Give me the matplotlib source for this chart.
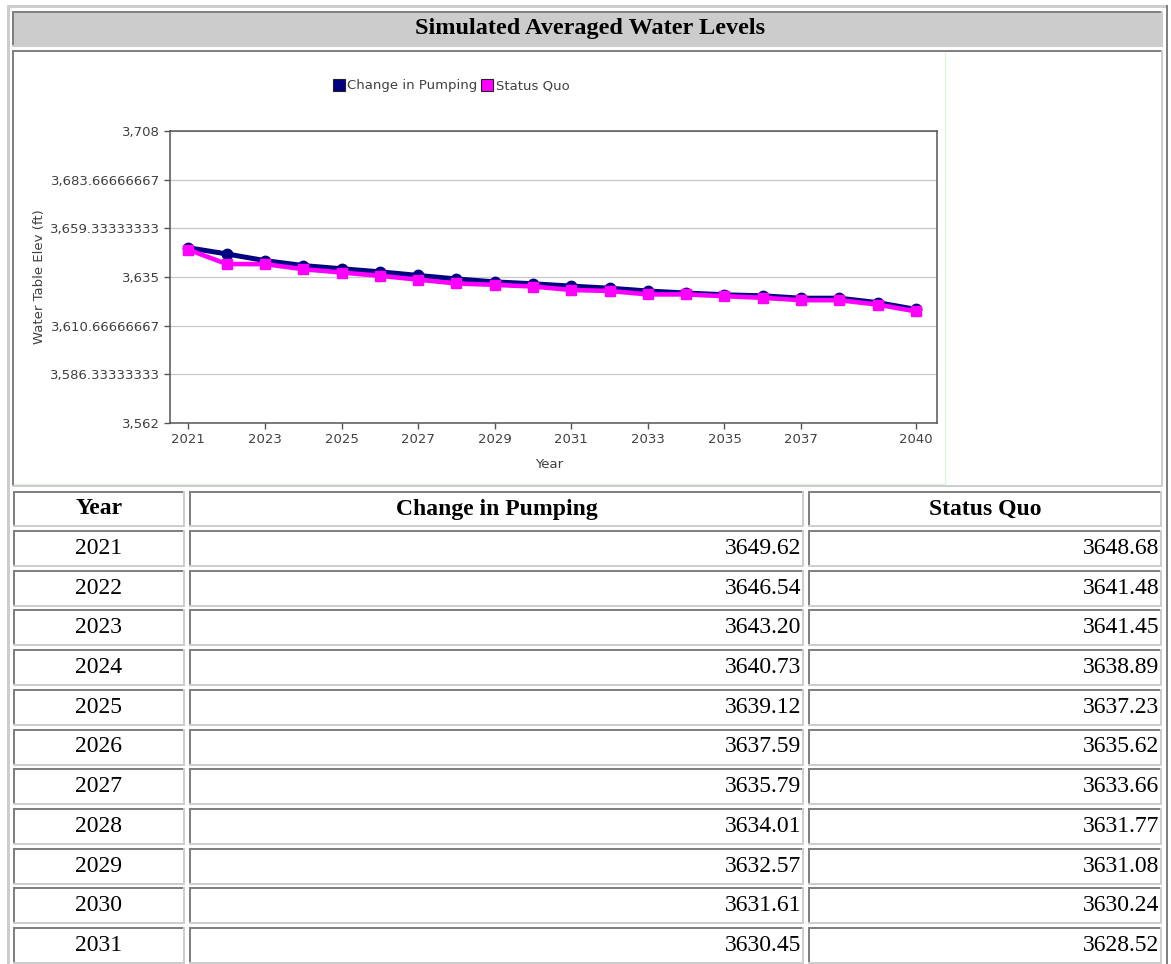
import numpy as np
import matplotlib
matplotlib.use('Agg')
import matplotlib.pyplot as plt
from matplotlib.patches import Rectangle
from matplotlib.lines import Line2D

# chart data (2021-2031 from the table, later years)
years = list(range(2021, 2041))
pumping = [3649.62, 3646.54, 3643.20, 3640.73, 3639.12, 3637.59, 3635.79, 3634.01, 3632.57, 3631.61,
           3630.45, 3629.4, 3628.0, 3627.0, 3626.1, 3625.6, 3624.4, 3624.4, 3622.2, 3618.8]
status_quo = [3648.68, 3641.48, 3641.45, 3638.89, 3637.23, 3635.62, 3633.66, 3631.77, 3631.08, 3630.24,
              3628.52, 3628.0, 3626.3, 3626.3, 3625.4, 3624.6, 3623.4, 3623.4, 3621.2, 3617.8]
series_names = ['Change in Pumping', 'Status Quo']
x_ticks = [2021, 2023, 2025, 2027, 2029, 2031, 2033, 2035, 2037, 2040]
y_ticks = [3562, 3586.33333333, 3610.66666667, 3635, 3659.33333333, 3683.66666667, 3708]
y_tick_labels = ['3,562', '3,586.33333333', '3,610.66666667', '3,635',
                 '3,659.33333333', '3,683.66666667', '3,708']
title = 'Simulated Averaged Water Levels'
table_cols = ['Year', 'Change in Pumping', 'Status Quo']
n_rows = 11  # rows visible in the screenshot

W, H = 1171, 964
NAVY = '#000080'
PINK = '#ff00ff'
DARK = '#808080'
LIGHT = '#cdcdcd'

fig = plt.figure(figsize=(W / 100, H / 100), dpi=100)
fig.patch.set_facecolor('white')

# page in pixel coords for the html-ish table
page = fig.add_axes([0, 0, 1, 1])
page.set_xlim(0, W)
page.set_ylim(H, 0)
page.axis('off')


def box(x0, y0, x1, y1, face='white', tl=DARK, br=LIGHT, w=2):
    page.add_patch(Rectangle((x0, y0), x1 - x0, y1 - y0, facecolor=face, edgecolor='none'))
    page.add_patch(Rectangle((x0, y0), x1 - x0, w, color=tl, lw=0))
    page.add_patch(Rectangle((x0, y0), w, y1 - y0, color=tl, lw=0))
    page.add_patch(Rectangle((x0, y1 - w), x1 - x0, w, color=br, lw=0))
    page.add_patch(Rectangle((x1 - w, y0), w, y1 - y0, color=br, lw=0))


serif = 'Liberation Serif'
fs_table = 17

# outer table border
box(7, 5, 1168, H + 20, face='white', tl=LIGHT, br=DARK, w=2.5)

# title row
box(12, 11, 1163, 47, face='#cccccc')
page.text(590, 28.5, title, ha='center', va='center', fontsize=17.5, fontweight='bold', family=serif)

# chart cell
box(12, 50, 1163, 487)
page.plot([944.5, 944.5], [52, 484], color='#d8f5d8', lw=0.8)
page.plot([14, 944.5], [484, 484], color='#d8f5d8', lw=0.8)

# table
col_x = [(13, 185), (189, 804), (808, 1162)]
for (x0, x1), name in zip(col_x, table_cols):
    box(x0, 491, x1, 527)
    page.text((x0 + x1) / 2, 509, name, ha='center', va='center', fontsize=fs_table,
              fontweight='bold', family=serif)

row_pitch = 39.7
for i in range(n_rows):
    top = 530 + i * row_pitch
    bot = top + 37
    yc = (top + bot) / 2
    for x0, x1 in col_x:
        box(x0, top, x1, bot)
    page.text(sum(col_x[0]) / 2, yc, str(years[i]), ha='center', va='center', fontsize=fs_table, family=serif)
    page.text(col_x[1][1] - 3, yc, f'{pumping[i]:.2f}', ha='right', va='center', fontsize=fs_table, family=serif)
    page.text(col_x[2][1] - 3, yc, f'{status_quo[i]:.2f}', ha='right', va='center', fontsize=fs_table, family=serif)

# chart axes, placed by pixel box
ax_l, ax_r, ax_t, ax_b = 170, 937, 131, 423
ax = fig.add_axes([ax_l / W, 1 - ax_b / H, (ax_r - ax_l) / W, (ax_b - ax_t) / H])
ax.set_facecolor('white')

sans = 'DejaVu Sans'
fs_chart = 9.5
txt_col = '#404040'

ax.plot(years, pumping, color=NAVY, lw=3.6, marker='o', markersize=7.5, zorder=3)
ax.plot(years, status_quo, color=PINK, lw=3.3, marker='s', markersize=7.5, zorder=4)

ax.set_xlim(2020.52, 2040.55)
ax.set_ylim(y_ticks[0], y_ticks[-1])
ax.set_xticks(x_ticks)
ax.set_xticklabels([str(t) for t in x_ticks], family=sans, fontsize=fs_chart, color=txt_col)
ax.set_yticks(y_ticks)
ax.set_yticklabels(y_tick_labels, family=sans, fontsize=fs_chart, color=txt_col)
ax.tick_params(direction='out', length=4, width=1, color='#555555', pad=3)
ax.grid(axis='y', color='#c8c8c8', lw=0.9)
ax.set_axisbelow(True)
for s in ax.spines.values():
    s.set_color('#555555')
    s.set_linewidth(1.1)

ax.set_xlabel('Year', family=sans, fontsize=fs_chart, color=txt_col)
ax.xaxis.set_label_coords(0.494, -0.12)
ax.set_ylabel('Water Table Elev (ft)', family=sans, fontsize=fs_chart, color=txt_col)
ax.yaxis.set_label_coords(-0.162, 0.5)

handles = [Line2D([], [], ls='none', marker='s', markersize=9, markerfacecolor=c,
                  markeredgecolor='#222222', markeredgewidth=0.8) for c in (NAVY, PINK)]
fig.legend(handles, series_names, loc='center left', bbox_to_anchor=(334 / W, 1 - 86 / H),
           ncol=2, frameon=False, handlelength=0.7, handletextpad=0.3, columnspacing=0.4,
           borderpad=0, borderaxespad=0, prop={'family': sans, 'size': fs_chart})
for t in fig.legends[0].get_texts():
    t.set_color(txt_col)

fig.savefig('out.png', dpi=100)
